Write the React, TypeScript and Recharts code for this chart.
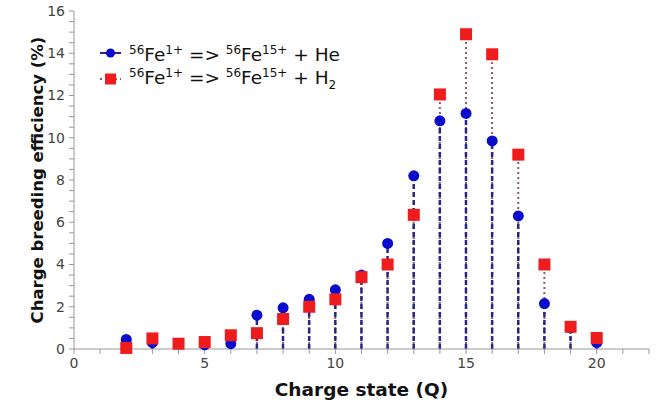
import { ComposedChart, Bar, Scatter, XAxis, YAxis } from "recharts";

// charge states Q and breeding efficiency (%) for the two support gases
const chargeStates = [2, 3, 4, 5, 6, 7, 8, 9, 10, 11, 12, 13, 14, 15, 16, 17, 18, 19, 20];
const heEfficiency = [0.45, 0.3, 0.25, 0.2, 0.25, 1.6, 1.95, 2.35, 2.8, 3.5, 5.0, 8.2, 10.8, 11.15, 9.85, 6.3, 2.15, 1.0, 0.3];
const h2Efficiency = [0.05, 0.5, 0.25, 0.33, 0.65, 0.75, 1.42, 2.0, 2.35, 3.4, 4.0, 6.35, 12.05, 14.9, 13.95, 9.2, 4.0, 1.05, 0.52];

const xTicks = [0, 1, 2, 3, 4, 5, 6, 7, 8, 9, 10, 11, 12, 13, 14, 15, 16, 17, 18, 19, 20, 21, 22];
const yTicks = [
  0, 0.5, 1, 1.5, 2, 2.5, 3, 3.5, 4, 4.5, 5, 5.5, 6, 6.5, 7, 7.5, 8,
  8.5, 9, 9.5, 10, 10.5, 11, 11.5, 12, 12.5, 13, 13.5, 14, 14.5, 15, 15.5, 16,
];

const data = chargeStates.map((q, i) => ({ q, he: heEfficiency[i], h2: h2Efficiency[i] }));

const FONT = "'DejaVu Sans', Verdana, sans-serif";
const BLUE = "#0b0bd0";
const RED = "#ee1c1c";

// draws both stems for one charge state, using the bar's own scaled geometry
function Stems(props: any) {
  const { x, y, width, height, payload } = props;
  const cx = x + width / 2;
  const base = y + height;
  const top = Math.max(payload.he, payload.h2);
  const toPx = (v: number) => base - (height * v) / top;
  return (
    <g>
      <line x1={cx} x2={cx} y1={base} y2={toPx(payload.h2)} stroke="#8a5a70" strokeWidth={2} strokeDasharray="2 3" />
      <line x1={cx} x2={cx} y1={base} y2={toPx(payload.he)} stroke="#2c2488" strokeWidth={2.5} strokeDasharray="5 3" />
    </g>
  );
}

const Circle = (p: any) => <circle cx={p.cx} cy={p.cy} r={5.5} fill={BLUE} />;
const Square = (p: any) => <rect x={p.cx - 6} y={p.cy - 6} width={12} height={12} fill={RED} />;

function LegendRow({ kind, gas }: { kind: "he" | "h2"; gas: React.ReactNode }) {
  return (
    <div style={{ display: "flex", alignItems: "center", height: 26 }}>
      <svg width={26} height={16} style={{ marginRight: 4 }}>
        {kind === "he" ? (
          <>
            <line x1={1} x2={22} y1={8} y2={8} stroke="#2c2488" strokeWidth={2} />
            <circle cx={11.5} cy={8} r={4.5} fill={BLUE} />
          </>
        ) : (
          <>
            <line x1={1} x2={22} y1={8} y2={8} stroke="#8a5a70" strokeWidth={2} strokeDasharray="2 3" />
            <rect x={6} y={2.5} width={11} height={11} fill={RED} />
          </>
        )}
      </svg>
      <span>
        <sup style={{ fontSize: 12 }}>56</sup>Fe<sup style={{ fontSize: 12 }}>1+</sup> =&gt;{" "}
        <sup style={{ fontSize: 12 }}>56</sup>Fe<sup style={{ fontSize: 12 }}>15+</sup> + {gas}
      </span>
    </div>
  );
}

export default function App() {
  return (
    <div style={{ position: "absolute", left: 0, top: 0, width: 664, height: 402, background: "#fff", fontFamily: FONT }}>
      <ComposedChart width={664} height={402} data={data} margin={{ top: 11, right: 15, bottom: 0, left: 0 }}>
        <XAxis
          dataKey="q"
          type="number"
          domain={[0, 22]}
          ticks={xTicks}
          interval={0}
          tickFormatter={(v: number) => (v % 5 === 0 ? String(v) : "")}
          stroke="#999"
          tickSize={5}
          tickMargin={4}
          height={53}
          tick={{ fill: "#444", fontSize: 14, fontFamily: FONT }}
          label={{
            value: "Charge state (Q)",
            position: "insideBottom",
            offset: 6,
            style: { fontWeight: "bold", fontSize: 18.5, fill: "#111", fontFamily: FONT },
          }}
        />
        <YAxis
          type="number"
          domain={[0, 16]}
          ticks={yTicks}
          interval={0}
          tickFormatter={(v: number) => (v % 2 === 0 ? String(v) : "")}
          stroke="#999"
          tickSize={5}
          tickMargin={4}
          width={74}
          tick={{ fill: "#444", fontSize: 14, fontFamily: FONT }}
          label={{
            value: "Charge breeding efficiency (%)",
            angle: -90,
            position: "center",
            dx: 0,
            style: { fontWeight: "bold", fontSize: 16.5, fill: "#111", fontFamily: FONT },
          }}
        />
        <Bar dataKey={(d: any) => Math.max(d.he, d.h2)} barSize={6} shape={<Stems />} isAnimationActive={false} />
        <Scatter dataKey="he" shape={Circle} isAnimationActive={false} />
        <Scatter dataKey="h2" shape={Square} isAnimationActive={false} />
      </ComposedChart>
      <div style={{ position: "absolute", left: 99, top: 40, fontSize: 18.5, color: "#111", lineHeight: "26px" }}>
        <LegendRow kind="he" gas="He" />
        <LegendRow
          kind="h2"
          gas={
            <>
              H<sub style={{ fontSize: 12 }}>2</sub>
            </>
          }
        />
      </div>
    </div>
  );
}
